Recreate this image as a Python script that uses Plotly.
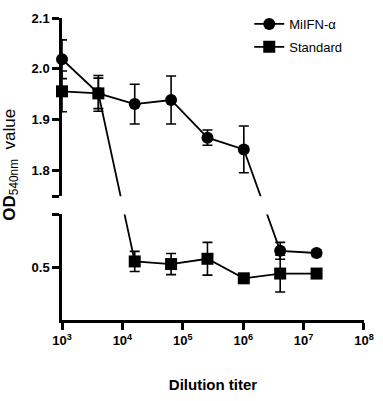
import plotly.graph_objects as go

# ---------------- data ----------------
dilution = [1e3, 4e3, 1.6e4, 6.4e4, 2.56e5, 1.024e6, 4.096e6, 1.6384e7]
mifn = [2.019, 1.952, 1.931, 1.939, 1.865, 1.842, 0.531, 0.527]
mifn_err = [0.038, 0.030, 0.039, 0.047, 0.015, 0.046, 0.016, 0.006]
standard = [1.956, 1.952, 0.511, 0.506, 0.516, 0.479, 0.488, 0.488]
standard_err = [0.040, 0.035, 0.019, 0.020, 0.031, 0.006, 0.035, 0.006]

top_ticks = [1.8, 1.9, 2.0, 2.1]
bottom_ticks = [0.5]
x_exponents = [3, 4, 5, 6, 7, 8]

# ---------------- broken-axis transform ----------------
BOT = (0.4, 0.6)
TOP = (1.75, 2.1)
GAP = 0.0345
K = 0.965


def T(v):
    if v < 1.0:
        return v
    return BOT[1] + GAP + (v - TOP[0]) * K


def TE(v, e):
    return e * K if v >= 1.0 else e


t_lo = T(BOT[0])
t_total = T(TOP[1]) - t_lo
bot_dom = [0, (T(BOT[1]) - t_lo) / t_total]
top_dom = [(T(TOP[0]) - t_lo) / t_total, 1]

fig = go.Figure()

series = [("MiIFN-α", mifn, mifn_err, "circle"),
          ("Standard", standard, standard_err, "square")]

for ax_i, (xa, ya) in enumerate([("x2", "y2"), ("x", "y")]):
    for name, vals, errs, sym in series:
        fig.add_trace(go.Scatter(
            x=dilution,
            y=[T(v) for v in vals],
            mode="lines+markers",
            name=name,
            legendgroup=name,
            showlegend=(ax_i == 0),
            xaxis=xa, yaxis=ya,
            cliponaxis=False,
            line=dict(color="black", width=1.8),
            marker=dict(symbol=sym, size=12, color="black"),
            error_y=dict(type="data", array=[TE(v, e) for v, e in zip(vals, errs)],
                         color="black", thickness=1.6, width=5),
        ))

tickfont = dict(family="Liberation Sans, Arial, sans-serif", size=13, color="black", weight="bold")
yax_common = dict(showline=True, linewidth=2.5, linecolor="black", ticks="outside",
                  ticklen=7, tickwidth=2.5, tickcolor="black", showgrid=False,
                  zeroline=False, tickfont=tickfont, fixedrange=True)

fig.update_layout(
    width=383, height=401,
    margin=dict(l=62, r=12, t=9, b=78),
    paper_bgcolor="white", plot_bgcolor="white",
    font=dict(family="Liberation Sans, Arial, sans-serif", color="black"),
    xaxis=dict(type="log", range=[2.9999, 8.0001], domain=[0, 1], anchor="y",
               tickvals=[10 ** e for e in x_exponents],
               ticktext=["10<sup>%d</sup>" % e for e in x_exponents],
               showline=True, linewidth=2.5, linecolor="black", ticks="outside",
               ticklen=7, tickwidth=2.5, tickcolor="black", showgrid=False,
               zeroline=False, tickfont=tickfont,
               title=dict(text="<b>Dilution titer</b>", font=dict(size=15), standoff=33)),
    xaxis2=dict(type="log", range=[2.9999, 8.0001], domain=[0, 1], anchor="y2", matches="x",
                showline=False, showticklabels=False, ticks="", showgrid=False, zeroline=False),
    yaxis=dict(domain=bot_dom, range=[T(BOT[0]), T(BOT[1])], anchor="x",
               tickvals=[T(v) for v in bottom_ticks] + [T(BOT[1])],
               ticktext=["%.1f" % v for v in bottom_ticks] + [""], **yax_common),
    yaxis2=dict(domain=top_dom, range=[T(TOP[0]), T(TOP[1])], anchor="x2",
                tickvals=[T(v) for v in top_ticks] + [T(TOP[0])],
                ticktext=["%.1f" % v for v in top_ticks] + [""], **yax_common),
    legend=dict(x=0.62, y=1.03, xanchor="left", yanchor="top",
                bgcolor="rgba(0,0,0,0)", font=dict(size=13),
                traceorder="grouped", tracegroupgap=3),
    annotations=[dict(
        text="<b>OD</b><sub>540nm</sub>&nbsp;&nbsp;value",
        textangle=-90, xref="paper", yref="paper", x=-0.17, y=0.513,
        xanchor="center", yanchor="middle", showarrow=False,
        font=dict(size=17, color="black"))],
)

fig.write_html(
    "out.html",
    config={"displayModeBar": False},
    post_script="document.body.style.margin='0px';document.body.style.overflow='hidden';"
                "document.documentElement.style.overflow='hidden';",
)
